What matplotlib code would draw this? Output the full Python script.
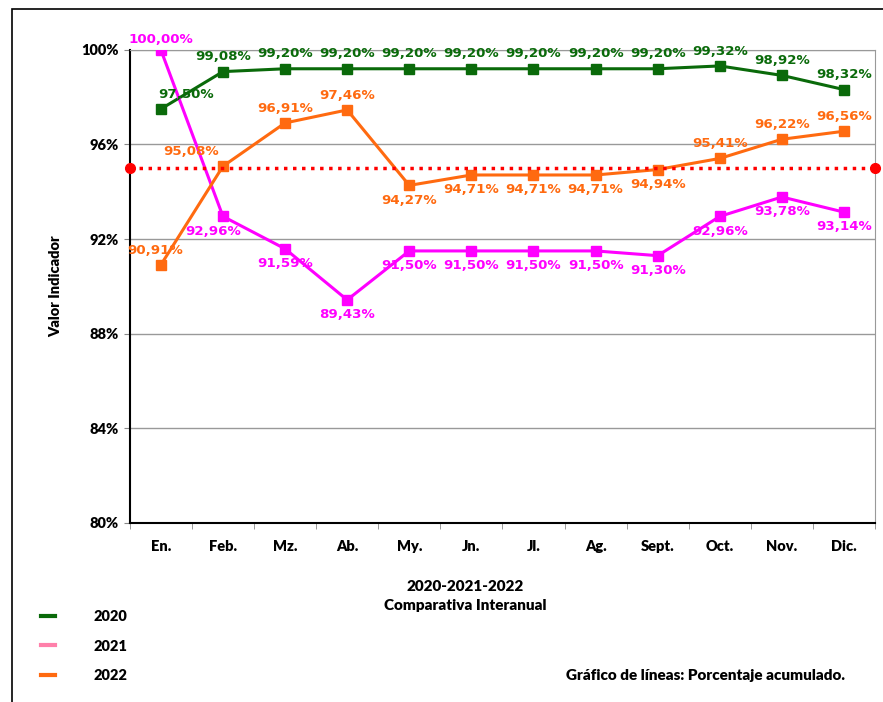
import matplotlib.pyplot as plt
from matplotlib.patches import Rectangle
from matplotlib.lines import Line2D

months = ['En.', 'Feb.', 'Mz.', 'Ab.', 'My.', 'Jn.', 'Jl.', 'Ag.', 'Sept.', 'Oct.', 'Nov.', 'Dic.']
v2020 = [97.50, 99.08, 99.20, 99.20, 99.20, 99.20, 99.20, 99.20, 99.20, 99.32, 98.92, 98.32]
v2021 = [100.00, 92.96, 91.59, 89.43, 91.50, 91.50, 91.50, 91.50, 91.30, 92.96, 93.78, 93.14]
v2022 = [90.91, 95.08, 96.91, 97.46, 94.27, 94.71, 94.71, 94.71, 94.94, 95.41, 96.22, 96.56]
target = 95.0

green = '#0a6a0a'
magenta = '#ff00ff'
orange = '#ff6a10'
pink = '#ff80aa'

fig = plt.figure(figsize=(8.83, 7.02), dpi=100)
ax = fig.add_axes([0.147, 0.255, 0.844, 0.674])

x = list(range(len(months)))
ax.plot(x, v2020, color=green, lw=2.2, marker='s', ms=7, zorder=4)
ax.plot(x, v2021, color=magenta, lw=2.2, marker='s', ms=7, zorder=4)
ax.plot(x, v2022, color=orange, lw=2.2, marker='s', ms=7, zorder=4)
ax.plot([-0.5, 11.5], [target, target], color='#ff0000', lw=2.5, ls=(0, (1, 1.6)),
        marker='o', ms=7, clip_on=False, zorder=5)

lab = dict(fontsize=9.6, fontweight='bold', family='DejaVu Sans', ha='center', zorder=6)

def fmt(v):
    return ('%.2f%%' % v).replace('.', ',')

# 2020 labels above
for i, v in enumerate(v2020):
    dx = 18 if i == 0 else 0
    ax.annotate(fmt(v), (i, v), xytext=(dx, 6), textcoords='offset points',
                va='bottom', color=green, **lab)
# 2021: first above, rest below
for i, v in enumerate(v2021):
    if i == 0:
        ax.annotate(fmt(v), (i, v), xytext=(0, 3), textcoords='offset points',
                    va='bottom', color=magenta, **lab)
    else:
        dx = -7 if i == 1 else 0
        ax.annotate(fmt(v), (i, v), xytext=(dx, -6), textcoords='offset points',
                    va='top', color=magenta, **lab)
# 2022
below22 = [4, 5, 6, 7, 8]
for i, v in enumerate(v2022):
    if i in below22:
        ax.annotate(fmt(v), (i, v), xytext=(0, -6), textcoords='offset points',
                    va='top', color=orange, **lab)
    else:
        dx = -23 if i == 1 else (-4 if i == 0 else 0)
        ax.annotate(fmt(v), (i, v), xytext=(dx, 6), textcoords='offset points',
                    va='bottom', color=orange, **lab)

ax.set_xlim(-0.5, 11.5)
ax.set_ylim(80, 100)
ax.set_yticks([80, 84, 88, 92, 96, 100])
ax.set_yticklabels(['80%', '84%', '88%', '92%', '96%', '100%'])
ax.set_xticks(x)
ax.set_xticklabels(months)
ax.set_xticks([i - 0.5 for i in range(13)], minor=True)
ax.tick_params(axis='x', which='major', length=0, pad=12)
ax.tick_params(axis='x', which='minor', length=4, color='#888888')
ax.tick_params(axis='y', length=4, color='#888888', pad=4)
for t in ax.get_xticklabels() + ax.get_yticklabels():
    t.set_fontweight('heavy')
    t.set_family('Lato')
    t.set_fontsize(10.5)
ax.grid(axis='y', color='#999999', lw=1)
ax.set_axisbelow(True)
ax.spines['left'].set_color('black')
ax.spines['bottom'].set_color('black')
ax.spines['left'].set_linewidth(1.5)
ax.spines['bottom'].set_linewidth(1.5)
ax.spines['top'].set_color('#999999')
ax.spines['right'].set_color('#999999')
ax.set_ylabel('Valor Indicador', fontsize=10.5, fontweight='heavy', family='Lato', labelpad=14)

fig.text(0.527, 0.165, '2020-2021-2022', ha='center', va='center', fontsize=11,
         fontweight='heavy', family='Lato')
fig.text(0.527, 0.138, 'Comparativa Interanual', ha='center', va='center', fontsize=11,
         fontweight='heavy', family='Lato')
fig.text(0.957, 0.038, 'Gráfico de líneas: Porcentaje acumulado.', ha='right', va='center',
         fontsize=11, fontweight='heavy', family='Lato')

handles = [Line2D([], [], color=green, lw=3),
           Line2D([], [], color=pink, lw=3),
           Line2D([], [], color=orange, lw=3)]
fig.legend(handles, ['2020', '2021', '2022'], loc='upper left', bbox_to_anchor=(0.032, 0.15),
           frameon=False, handlelength=0.9, handletextpad=2.7, labelspacing=1.15,
           prop={'family': 'Lato', 'weight': 'heavy', 'size': 10.5})

fig.add_artist(Rectangle((0.0136, -0.1), 1.2, 1.087, transform=fig.transFigure,
                         fill=False, ec='black', lw=1.2))

fig.savefig('out.png', dpi=100)
